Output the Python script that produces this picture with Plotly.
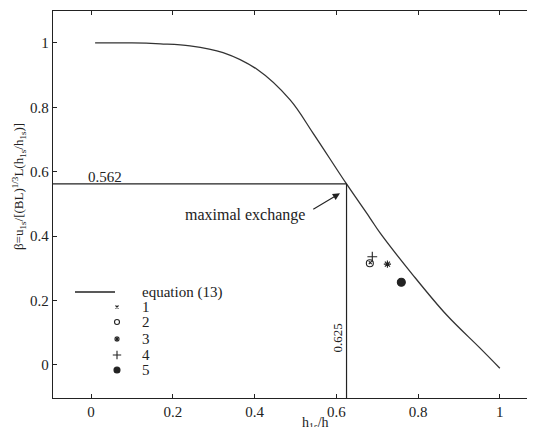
import plotly.graph_objects as go

# ---- data ----
eq_x = [0.01, 0.10, 0.17, 0.242, 0.323, 0.406, 0.487, 0.543, 0.625, 0.682, 0.707, 0.787, 0.870, 0.951, 1.000]
eq_y = [1.000, 1.000, 0.997, 0.991, 0.970, 0.918, 0.823, 0.720, 0.562, 0.457, 0.410, 0.280, 0.155, 0.053, -0.010]

s1_x, s1_y = [0.683], [0.318]
s2_x, s2_y = [0.682], [0.316]
s3_x, s3_y = [0.725], [0.313]
s4_x, s4_y = [0.688], [0.336]
s5_x, s5_y = [0.759], [0.257]

legend_labels = ["equation (13)", "1", "2", "3", "4", "5"]
xticks = [0, 0.2, 0.4, 0.6, 0.8, 1]
xtick_text = ["0", "0.2", "0.4", "0.6", "0.8", "1"]
yticks = [0, 0.2, 0.4, 0.6, 0.8, 1]
ytick_text = ["0", "0.2", "0.4", "0.6", "0.8", "1"]
max_x, max_y = 0.625, 0.562

# ---- layout constants (window pixels) ----
OFF = 8                      # default page body margin
WIN_W, WIN_H = 535, 427
X0, X1, Y0, Y1 = 53, 535, 11, 398   # plot rectangle in the window
W, H = WIN_W - OFF, WIN_H - OFF
ML, MT = X0 - OFF, Y0 - OFF
MR, MB = W - (X1 - OFF), H - (Y1 - OFF)
FONT = "Liberation Serif"
INK = "#222222"

def px(x):
    return (x - X0) / (X1 - X0)

def py(y):
    return (Y1 - y) / (Y1 - Y0)

def mk(sym, size):
    return dict(symbol=sym, size=size, color=INK, line=dict(color=INK, width=1.1))

fig = go.Figure()

fig.add_trace(go.Scatter(x=eq_x, y=eq_y, mode="lines", line=dict(color="#333333", width=1.3, shape="spline", smoothing=1.0),
                         showlegend=False, hoverinfo="skip"))
fig.add_trace(go.Scatter(x=s1_x, y=s1_y, mode="markers", marker=mk("x-thin-open", 3), showlegend=False))
fig.add_trace(go.Scatter(x=s2_x, y=s2_y, mode="markers", marker=mk("circle-open", 7), showlegend=False))
fig.add_trace(go.Scatter(x=s3_x, y=s3_y, mode="markers", marker=mk("asterisk-open", 6), showlegend=False))
fig.add_trace(go.Scatter(x=s4_x, y=s4_y, mode="markers", marker=mk("cross-thin-open", 7), showlegend=False))
fig.add_trace(go.Scatter(x=s5_x, y=s5_y, mode="markers", marker=mk("circle", 8), showlegend=False))

# reference lines for the maximal exchange point
fig.add_shape(type="line", xref="x", yref="y", x0=-0.1, x1=max_x, y0=max_y, y1=max_y, line=dict(color=INK, width=1.2))
fig.add_shape(type="line", xref="x", yref="y", x0=max_x, x1=max_x, y0=max_y, y1=-0.11, line=dict(color=INK, width=1.2))

# ---- custom legend (window-pixel layout on an overlay axis) ----
leg_line_x0, leg_line_x1 = 75, 115
leg_mark_x = 117
leg_text_x = 140
leg_rows = [292, 307, 322, 339, 355, 370]
fig.add_shape(type="line", xref="paper", yref="paper", x0=px(leg_line_x0), x1=px(leg_line_x1),
              y0=py(leg_rows[0]), y1=py(leg_rows[0]), line=dict(color=INK, width=1.3))
leg_syms = [("x-thin-open", 3), ("circle-open", 5), ("asterisk-open", 5), ("cross-thin-open", 6), ("circle", 6)]
for (sym, sz), ry in zip(leg_syms, leg_rows[1:]):
    fig.add_trace(go.Scatter(x=[leg_mark_x], y=[ry], xaxis="x2", yaxis="y2", mode="markers", marker=mk(sym, sz),
                             showlegend=False, hoverinfo="skip"))
for lab, ry in zip(legend_labels, leg_rows):
    fig.add_annotation(xref="paper", yref="paper", x=px(leg_text_x), y=py(ry), text=lab, showarrow=False,
                       xanchor="left", yanchor="middle", font=dict(family=FONT, size=15, color=INK))

# ---- annotations ----
fig.add_annotation(xref="paper", yref="paper", x=px(86), y=py(177), text="0.562", showarrow=False,
                   font=dict(family=FONT, size=15, color=INK))
fig.add_annotation(xref="paper", yref="paper", x=px(337), y=py(355), text="0.625", showarrow=False, textangle=-90,
                   font=dict(family=FONT, size=13, color=INK))
fig.add_annotation(xref="paper", yref="paper", x=px(245), y=py(215), text="maximal exchange", showarrow=False,
                   font=dict(family=FONT, size=16, color=INK))
fig.add_annotation(xref="x", yref="y", x=0.609, y=0.533, ax=0.540, ay=0.481, axref="x", ayref="y", text="",
                   showarrow=True, arrowhead=2, arrowsize=1.3, arrowwidth=1.1, arrowcolor=INK)

# axis titles
fig.add_annotation(xref="paper", yref="paper", x=px(315), y=py(423), text="h<sub>1s</sub>/h", showarrow=False,
                   xanchor="center", yanchor="middle", font=dict(family=FONT, size=14, color=INK))
fig.add_annotation(xref="paper", yref="paper", x=px(19), y=py(187), textangle=-90,
                   text="β=u<sub>1s</sub>/[(BL)<sup>1/3</sup>L(h<sub>1s</sub>/h<sub>1s</sub>)]", showarrow=False,
                   xanchor="center", yanchor="middle", font=dict(family=FONT, size=13, color=INK))

axis_common = dict(showgrid=False, zeroline=False, showline=True, linecolor=INK, linewidth=1.3,
                   ticks="inside", ticklen=4, tickwidth=1.1, tickcolor=INK,
                   tickfont=dict(family=FONT, size=15, color=INK))

fig.update_layout(
    width=W, height=H, margin=dict(l=ML, r=MR, t=MT, b=MB, pad=0),
    paper_bgcolor="white", plot_bgcolor="white",
    font=dict(family=FONT, color=INK),
    xaxis=dict(range=[-0.093, 1.086], tickvals=xticks, ticktext=xtick_text, mirror="ticks", **axis_common),
    yaxis=dict(range=[-0.1025, 1.099], tickvals=yticks, ticktext=ytick_text, **axis_common),
    xaxis2=dict(overlaying="x", range=[X0, X1], visible=False, fixedrange=True),
    yaxis2=dict(overlaying="y", range=[Y1, Y0], visible=False, fixedrange=True),
    showlegend=False,
)

fig.write_html("out.html")
